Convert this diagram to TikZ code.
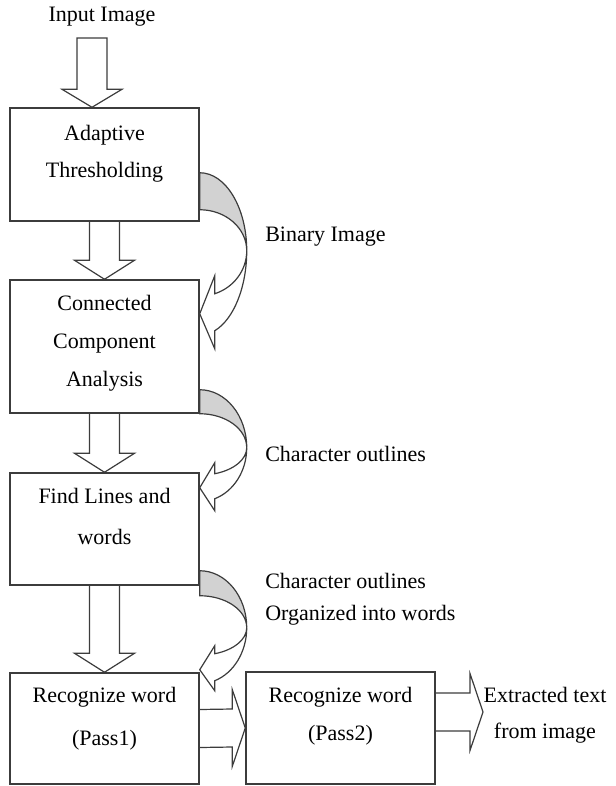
\documentclass[tikz,border=0pt]{standalone}
\usepackage{fontspec}
\setmainfont{Liberation Serif}
\usetikzlibrary{calc,backgrounds}
\definecolor{ln}{HTML}{3C3C3C}
\definecolor{shade}{HTML}{D2D2D2}
\tikzset{
 box/.style={draw=ln, line width=1.1pt, minimum width=141.75pt, inner sep=0pt},
 txt/.style={align=center, inner sep=0pt, font=\fontsize{16.5}{27.75}\selectfont},
 lbl/.style={anchor=west, inner sep=0pt, align=left, font=\fontsize{16.5}{24}\selectfont},
 blk/.style={draw=ln, fill=white, line width=0.9pt, line join=miter},
 band/.style={draw=ln, line width=0.9pt},
}
\newcommand\CurvArr[9]{%
\begin{scope}[shift={(#1)}]
 \pgfmathsetmacro\ryA{(#6-(#4))/0.948}
 \pgfmathsetmacro\ryB{(#8-(#4))/0.948}
 \filldraw[band, fill=shade] (0,#2) .. controls (26,#2) and (47,{#4-0.552*(#4-(#2))}) .. (47,#4) .. controls (47,{#4-0.552*(#4-(#3))}) and (26,#3) .. (0,#3) -- cycle;
 \filldraw[band, fill=white] (47,#4) .. controls (47,{#4+0.429*\ryA}) and (34.1,{#6-0.137*\ryA}) .. (15,#6) -- (15,#5) -- (0,#7) -- (15,#9) -- (15,#8) .. controls (34.1,{#8-0.137*\ryB}) and (47,{#4+0.429*\ryB}) .. (47,#4) -- cycle;
\end{scope}}
\newcommand\BlkDown[2]{\filldraw[blk] ($(#1)+(-15,0)$) -- ($(#2)+(-15,-19)$) -- ($(#2)+(-30,-19)$) -- (#2) -- ($(#2)+(30,-19)$) -- ($(#2)+(15,-19)$) -- ($(#1)+(15,0)$);}
\newcommand\BlkRight[2]{\filldraw[blk] ($(#1)+(0,-19)$) -- ($(#2)+(-13,-19)$) -- ($(#2)+(-13,-38.5)$) -- (#2) -- ($(#2)+(-13,38.5)$) -- ($(#2)+(-13,19)$) -- ($(#1)+(0,19)$);}
\begin{document}
\begin{tikzpicture}[x=0.75pt,y=-0.75pt]
\useasboundingbox (0,0) rectangle (616,786);
% boxes
\node[box, minimum height=84.75pt] (b1) at (104.5,164.5) {};
\node[box, minimum height=99.75pt] (b2) at (104.5,346.5) {};
\node[box, minimum height=84pt] (b3) at (104.5,529) {};
\node[box, minimum height=83.25pt] (b4) at (104.5,728.5) {};
\node[box, minimum height=84pt] (b5) at (340.5,728) {};
% texts
\node[txt] (tin) at (102,17) {Input Image};
\node[txt] (t1) at (104.5,153.5) {Adaptive\\Thresholding};
\node[txt, font=\fontsize{16.5}{28.5}\selectfont] (t2) at (104.5,343) {Connected\\Component\\Analysis};
\node[txt, font=\fontsize{16.5}{30.75}\selectfont] (t3) at (104.5,516.5) {Find Lines and\\words};
\node[txt, font=\fontsize{16.5}{32.25}\selectfont] (t4) at (104.5,718.5) {Recognize word\\(Pass1)};
\node[txt, font=\fontsize{16.5}{28.5}\selectfont] (t5) at (340.5,716) {Recognize word\\(Pass2)};
\node[lbl] (l1) at (265,237) {Binary Image};
\node[lbl] (l2) at (265,454) {Character outlines};
\node[lbl] (l3) at (265,599) {Character outlines\\Organized into words};
\node[txt, font=\fontsize{16.5}{27}\selectfont] (tout) at (545,715) {Extracted text\\from image};
% connectors
\coordinate (a0) at (92,38);
\coordinate (a1) at (a0 |- b1.north);
\coordinate (o0) at ($(b5.east)+(0,-16)$);
\coordinate (o1) at (483,712);
\begin{scope}[on background layer]
\filldraw[blk] ($(a0)+(-15,0)$) -- ($(a1)+(-15,-18)$) -- ($(a1)+(-30,-18)$) -- (a1) -- ($(a1)+(30,-18)$) -- ($(a1)+(15,-18)$) -- ($(a0)+(15,0)$) -- cycle;
\BlkDown{b1.south}{b2.north}
\BlkDown{b2.south}{b3.north}
\BlkDown{b3.south}{b4.north}
\BlkRight{b4.east}{b5.west}
\BlkRight{o0}{o1}
\CurvArr{b1.south east}{-49}{-12}{29}{54}{72}{92}{109}{127}
\CurvArr{b2.south east}{-24}{0}{34}{49}{60}{74}{85}{97}
\CurvArr{b3.south east}{-15}{10}{42}{60}{68}{84}{95}{105}
\end{scope}
\end{tikzpicture}
\end{document}
